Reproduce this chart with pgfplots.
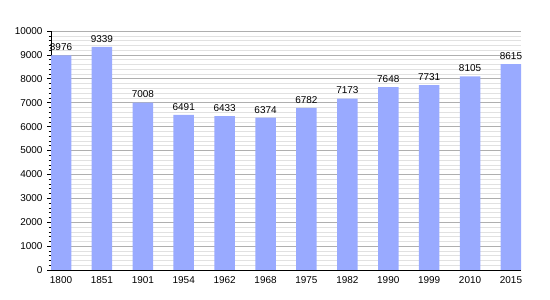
\documentclass[border=0pt]{standalone}
\usepackage{pgfplots}
\pgfplotsset{compat=1.18}
\usepackage{fontspec}
\setmainfont{Liberation Sans}
\definecolor{barblue}{RGB}{153,170,255}
\definecolor{majgrid}{RGB}{175,175,175}
\definecolor{mingrid}{RGB}{225,225,225}
\begin{document}
\begin{tikzpicture}
\begin{axis}[
  scale only axis,
  width=470bp, height=239bp,
  at={(0,0)}, anchor=south west,
  xmin=-0.245, xmax=11.245,
  ymin=0, ymax=10000,
  ytick={0,1000,...,10000},
  minor y tick num=4,
  xtick={0,...,11},
  xticklabels={1800,1851,1901,1954,1962,1968,1975,1982,1990,1999,2010,2015},
  axis x line*=bottom,
  axis y line*=left,
  axis line style={black, line width=0.8pt, -},
  ymajorgrids, yminorgrids,
  major grid style={majgrid, line width=0.6pt},
  minor grid style={mingrid, line width=0.5pt},
  major y tick style={black, line width=0.6pt},
  minor y tick style={black, line width=0.5pt},
  tick align=outside,
  major tick length=4bp,
  minor tick length=2.5bp,
  x tick style={draw=none},
  tick label style={font=\fontsize{10}{12}\selectfont},
  /pgf/number format/assume math mode=true,
  scaled y ticks=false,
  yticklabel style={/pgf/number format/1000 sep={}},
  xticklabel style={yshift=1bp},
  yticklabel style={xshift=-1bp},
  ybar, bar width=20.5bp,
  nodes near coords,
  nodes near coords style={font=\fontsize{10}{12}\selectfont, /pgf/number format/1000 sep={}, /pgf/number format/assume math mode=true, yshift=1bp},
]
\addplot[fill=barblue, draw=none] coordinates {
(0,8976) (1,9339) (2,7008) (3,6491) (4,6433) (5,6374)
(6,6782) (7,7173) (8,7648) (9,7731) (10,8105) (11,8615)};
\end{axis}
\pgfresetboundingbox
\path (-51bp,-30bp) rectangle (499bp,270bp);
\end{tikzpicture}
\end{document}
